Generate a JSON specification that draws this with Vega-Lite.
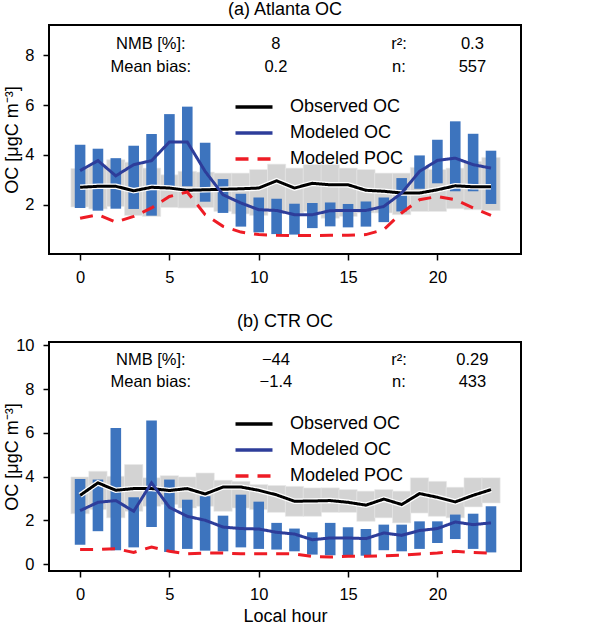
{
  "$schema": "https://vega.github.io/schema/vega-lite/v6.json",
  "padding": {"left": 2, "top": 0, "right": 0, "bottom": 0},
  "config": {
    "font": "Liberation Sans",
    "view": {"stroke": "black", "strokeWidth": 2},
    "title": {"fontSize": 18, "fontWeight": "normal", "offset": 6, "color": "black"},
    "axis": {"domain": false, "grid": false, "tickColor": "black", "tickSize": 6, "tickWidth": 1.5, "labelFontSize": 16.5, "labelColor": "black", "titleFontSize": 18, "titleFontWeight": "normal", "titleColor": "black", "labelPadding": 9},
    "legend": {"title": null, "symbolType": "M-2,0H2", "symbolSize": 342, "symbolStrokeWidth": 3.5, "labelFontSize": 18, "labelOffset": 25, "rowPadding": 6, "labelColor": "black"}
  },
  "datasets": {
    "a": [
      {"hour": 0, "olo": 1.91, "ohi": 3.45, "mlo": 1.87, "mhi": 4.41, "Observed OC": 2.70, "Modeled OC": 3.37, "Modeled POC": 1.46},
      {"hour": 1, "olo": 1.83, "ohi": 3.61, "mlo": 1.76, "mhi": 4.25, "Observed OC": 2.74, "Modeled OC": 3.77, "Modeled POC": 1.60},
      {"hour": 2, "olo": 1.93, "ohi": 3.81, "mlo": 1.84, "mhi": 3.87, "Observed OC": 2.74, "Modeled OC": 3.16, "Modeled POC": 1.30},
      {"hour": 3, "olo": 1.57, "ohi": 3.71, "mlo": 1.83, "mhi": 4.37, "Observed OC": 2.56, "Modeled OC": 3.61, "Modeled POC": 1.53},
      {"hour": 4, "olo": 1.53, "ohi": 3.47, "mlo": 1.56, "mhi": 4.84, "Observed OC": 2.70, "Modeled OC": 3.77, "Modeled POC": 1.87},
      {"hour": 5, "olo": 1.89, "ohi": 3.20, "mlo": 2.70, "mhi": 5.64, "Observed OC": 2.67, "Modeled OC": 4.52, "Modeled POC": 2.33},
      {"hour": 6, "olo": 1.87, "ohi": 3.34, "mlo": 2.74, "mhi": 5.94, "Observed OC": 2.58, "Modeled OC": 4.52, "Modeled POC": 2.51},
      {"hour": 7, "olo": 1.89, "ohi": 3.31, "mlo": 2.12, "mhi": 4.49, "Observed OC": 2.60, "Modeled OC": 3.34, "Modeled POC": 1.60},
      {"hour": 8, "olo": 1.73, "ohi": 3.27, "mlo": 1.67, "mhi": 3.03, "Observed OC": 2.62, "Modeled OC": 2.40, "Modeled POC": 1.13},
      {"hour": 9, "olo": 1.63, "ohi": 3.27, "mlo": 1.12, "mhi": 2.44, "Observed OC": 2.64, "Modeled OC": 2.07, "Modeled POC": 0.90},
      {"hour": 10, "olo": 1.57, "ohi": 3.41, "mlo": 0.89, "mhi": 2.29, "Observed OC": 2.67, "Modeled OC": 1.80, "Modeled POC": 0.80},
      {"hour": 11, "olo": 1.73, "ohi": 3.63, "mlo": 0.82, "mhi": 2.24, "Observed OC": 2.96, "Modeled OC": 1.77, "Modeled POC": 0.77},
      {"hour": 12, "olo": 1.67, "ohi": 3.47, "mlo": 0.80, "mhi": 2.04, "Observed OC": 2.67, "Modeled OC": 1.60, "Modeled POC": 0.76},
      {"hour": 13, "olo": 1.73, "ohi": 3.61, "mlo": 1.06, "mhi": 2.07, "Observed OC": 2.86, "Modeled OC": 1.60, "Modeled POC": 0.76},
      {"hour": 14, "olo": 1.46, "ohi": 3.61, "mlo": 1.13, "mhi": 2.09, "Observed OC": 2.80, "Modeled OC": 1.76, "Modeled POC": 0.77},
      {"hour": 15, "olo": 1.53, "ohi": 3.47, "mlo": 1.09, "mhi": 2.03, "Observed OC": 2.80, "Modeled OC": 1.77, "Modeled POC": 0.77},
      {"hour": 16, "olo": 1.67, "ohi": 3.41, "mlo": 1.12, "mhi": 2.13, "Observed OC": 2.58, "Modeled OC": 1.77, "Modeled POC": 0.80},
      {"hour": 17, "olo": 1.67, "ohi": 3.27, "mlo": 1.30, "mhi": 2.29, "Observed OC": 2.54, "Modeled OC": 1.93, "Modeled POC": 1.00},
      {"hour": 18, "olo": 1.60, "ohi": 3.27, "mlo": 1.73, "mhi": 3.07, "Observed OC": 2.47, "Modeled OC": 2.47, "Modeled POC": 1.67},
      {"hour": 19, "olo": 1.73, "ohi": 3.50, "mlo": 2.64, "mhi": 3.98, "Observed OC": 2.47, "Modeled OC": 3.34, "Modeled POC": 2.20},
      {"hour": 20, "olo": 1.73, "ohi": 3.41, "mlo": 2.86, "mhi": 4.61, "Observed OC": 2.60, "Modeled OC": 3.78, "Modeled POC": 2.33},
      {"hour": 21, "olo": 1.84, "ohi": 3.47, "mlo": 2.54, "mhi": 5.35, "Observed OC": 2.76, "Modeled OC": 3.87, "Modeled POC": 2.20},
      {"hour": 22, "olo": 1.80, "ohi": 3.74, "mlo": 2.54, "mhi": 4.85, "Observed OC": 2.72, "Modeled OC": 3.61, "Modeled POC": 1.87},
      {"hour": 23, "olo": 1.77, "ohi": 3.90, "mlo": 2.03, "mhi": 4.17, "Observed OC": 2.72, "Modeled OC": 3.47, "Modeled POC": 1.57}
    ],
    "b": [
      {"hour": 0, "olo": 2.30, "ohi": 3.98, "mlo": 0.88, "mhi": 3.89, "Observed OC": 3.14, "Modeled OC": 2.44, "Modeled POC": 0.66},
      {"hour": 1, "olo": 2.49, "ohi": 4.24, "mlo": 1.50, "mhi": 3.86, "Observed OC": 3.71, "Modeled OC": 2.82, "Modeled POC": 0.66},
      {"hour": 2, "olo": 2.11, "ohi": 4.01, "mlo": 0.63, "mhi": 6.22, "Observed OC": 3.37, "Modeled OC": 2.90, "Modeled POC": 0.70},
      {"hour": 3, "olo": 2.41, "ohi": 4.55, "mlo": 0.76, "mhi": 3.05, "Observed OC": 3.45, "Modeled OC": 2.41, "Modeled POC": 0.53},
      {"hour": 4, "olo": 2.64, "ohi": 3.94, "mlo": 1.69, "mhi": 6.56, "Observed OC": 3.45, "Modeled OC": 3.71, "Modeled POC": 0.78},
      {"hour": 5, "olo": 2.72, "ohi": 4.04, "mlo": 0.55, "mhi": 3.86, "Observed OC": 3.36, "Modeled OC": 2.59, "Modeled POC": 0.58},
      {"hour": 6, "olo": 2.56, "ohi": 3.98, "mlo": 0.69, "mhi": 2.94, "Observed OC": 3.45, "Modeled OC": 2.18, "Modeled POC": 0.47},
      {"hour": 7, "olo": 2.64, "ohi": 4.16, "mlo": 0.61, "mhi": 3.10, "Observed OC": 3.20, "Modeled OC": 2.00, "Modeled POC": 0.50},
      {"hour": 8, "olo": 2.41, "ohi": 3.83, "mlo": 0.58, "mhi": 2.21, "Observed OC": 3.52, "Modeled OC": 1.69, "Modeled POC": 0.50},
      {"hour": 9, "olo": 2.56, "ohi": 3.78, "mlo": 0.76, "mhi": 3.17, "Observed OC": 3.52, "Modeled OC": 1.62, "Modeled POC": 0.47},
      {"hour": 10, "olo": 2.49, "ohi": 3.63, "mlo": 0.69, "mhi": 2.85, "Observed OC": 3.37, "Modeled OC": 1.60, "Modeled POC": 0.47},
      {"hour": 11, "olo": 2.36, "ohi": 3.59, "mlo": 0.66, "mhi": 1.88, "Observed OC": 3.16, "Modeled OC": 1.45, "Modeled POC": 0.47},
      {"hour": 12, "olo": 2.18, "ohi": 3.55, "mlo": 0.58, "mhi": 1.62, "Observed OC": 2.87, "Modeled OC": 1.37, "Modeled POC": 0.46},
      {"hour": 13, "olo": 2.18, "ohi": 3.48, "mlo": 0.43, "mhi": 1.45, "Observed OC": 2.88, "Modeled OC": 1.11, "Modeled POC": 0.35},
      {"hour": 14, "olo": 2.36, "ohi": 3.48, "mlo": 0.40, "mhi": 1.88, "Observed OC": 2.90, "Modeled OC": 1.19, "Modeled POC": 0.32},
      {"hour": 15, "olo": 2.36, "ohi": 3.40, "mlo": 0.40, "mhi": 1.68, "Observed OC": 2.82, "Modeled OC": 1.19, "Modeled POC": 0.35},
      {"hour": 16, "olo": 1.95, "ohi": 3.33, "mlo": 0.38, "mhi": 1.60, "Observed OC": 2.69, "Modeled OC": 1.16, "Modeled POC": 0.35},
      {"hour": 17, "olo": 2.11, "ohi": 3.40, "mlo": 0.63, "mhi": 1.80, "Observed OC": 2.97, "Modeled OC": 1.42, "Modeled POC": 0.38},
      {"hour": 18, "olo": 1.88, "ohi": 3.33, "mlo": 0.58, "mhi": 1.80, "Observed OC": 2.72, "Modeled OC": 1.31, "Modeled POC": 0.40},
      {"hour": 19, "olo": 2.33, "ohi": 3.94, "mlo": 0.69, "mhi": 1.95, "Observed OC": 3.22, "Modeled OC": 1.53, "Modeled POC": 0.46},
      {"hour": 20, "olo": 2.18, "ohi": 3.78, "mlo": 0.96, "mhi": 1.95, "Observed OC": 3.05, "Modeled OC": 1.62, "Modeled POC": 0.50},
      {"hour": 21, "olo": 2.11, "ohi": 3.51, "mlo": 1.14, "mhi": 2.26, "Observed OC": 2.84, "Modeled OC": 1.92, "Modeled POC": 0.58},
      {"hour": 22, "olo": 2.61, "ohi": 3.94, "mlo": 0.69, "mhi": 2.30, "Observed OC": 3.14, "Modeled OC": 1.80, "Modeled POC": 0.53},
      {"hour": 23, "olo": 2.79, "ohi": 3.94, "mlo": 0.53, "mhi": 2.64, "Observed OC": 3.40, "Modeled OC": 1.88, "Modeled POC": 0.50}
    ],
    "ta": [
      {"hour": 3.96, "value": 8.45, "label": "NMB [%]:"},
      {"hour": 3.96, "value": 7.53, "label": "Mean bias:"},
      {"hour": 10.96, "value": 8.45, "label": "8"},
      {"hour": 10.96, "value": 7.53, "label": "0.2"},
      {"hour": 17.85, "value": 8.45, "label": "r²:"},
      {"hour": 17.85, "value": 7.53, "label": "n:"},
      {"hour": 21.96, "value": 8.45, "label": "0.3"},
      {"hour": 21.96, "value": 7.53, "label": "557"}
    ],
    "tb": [
      {"hour": 3.96, "value": 9.32, "label": "NMB [%]:"},
      {"hour": 3.96, "value": 8.32, "label": "Mean bias:"},
      {"hour": 10.96, "value": 9.32, "label": "−44"},
      {"hour": 10.96, "value": 8.32, "label": "−1.4"},
      {"hour": 17.85, "value": 9.32, "label": "r²:"},
      {"hour": 17.85, "value": 8.32, "label": "n:"},
      {"hour": 21.96, "value": 9.32, "label": "0.29"},
      {"hour": 21.96, "value": 8.32, "label": "433"}
    ]
  },
  "spacing": 25,
  "resolve": {
    "scale": {"x": "independent", "y": "independent", "color": "independent", "strokeDash": "independent"},
    "legend": {"color": "independent", "strokeDash": "independent"}
  },
  "vconcat": [
    {
      "title": "(a) Atlanta OC",
      "width": 472,
      "height": 229,
      "data": {"name": "a"},
      "layer": [
        {
          "mark": {"type": "bar", "width": 18.3, "color": "#d3d3d3", "stroke": "#e9e9e9", "strokeWidth": 0.6},
          "encoding": {
            "x": {"field": "hour", "type": "quantitative", "scale": {"domain": [-1.46, 24.4], "nice": false, "zero": false}, "axis": {"values": [0, 5, 10, 15, 20], "title": null}},
            "y": {"field": "olo", "type": "quantitative", "scale": {"domain": [0.02, 9.22], "nice": false, "zero": false}, "axis": {"values": [2, 4, 6, 8], "title": "OC [μgC m⁻³]", "titleX": -37, "titleBaseline": "middle"}},
            "y2": {"field": "ohi"}
          }
        },
        {
          "mark": {"type": "bar", "width": 10.6, "color": "#3d74be"},
          "encoding": {
            "x": {"field": "hour", "type": "quantitative"},
            "y": {"field": "mlo", "type": "quantitative"},
            "y2": {"field": "mhi"}
          }
        },
        {
          "mark": {"type": "line", "color": "white", "strokeWidth": 5.5},
          "encoding": {
            "x": {"field": "hour", "type": "quantitative"},
            "y": {"field": "Observed OC", "type": "quantitative"}
          }
        },
        {
          "transform": [{"fold": ["Observed OC", "Modeled OC", "Modeled POC"], "as": ["series", "val"]}],
          "mark": {"type": "line", "strokeWidth": 3},
          "encoding": {
            "x": {"field": "hour", "type": "quantitative"},
            "y": {"field": "val", "type": "quantitative"},
            "color": {"field": "series", "type": "nominal", "scale": {"domain": ["Observed OC", "Modeled OC", "Modeled POC"], "range": ["black", "#2d3d9a", "#ee1c25"]},
              "legend": {"orient": "none", "legendX": 194, "legendY": 71}},
            "strokeDash": {"field": "series", "type": "nominal", "scale": {"domain": ["Observed OC", "Modeled OC", "Modeled POC"], "range": [[1, 0], [1, 0], [13, 9]]},
              "legend": {"orient": "none", "legendX": 194, "legendY": 71}}
          }
        },
        {
          "data": {"name": "ta"},
          "mark": {"type": "text", "fontSize": 16.5, "color": "black", "baseline": "middle"},
          "encoding": {
            "x": {"field": "hour", "type": "quantitative"},
            "y": {"field": "value", "type": "quantitative"},
            "text": {"field": "label"}
          }
        }
      ]
    },
    {
      "title": "(b) CTR OC",
      "width": 472,
      "height": 229,
      "data": {"name": "b"},
      "layer": [
        {
          "mark": {"type": "bar", "width": 18.3, "color": "#d3d3d3", "stroke": "#e9e9e9", "strokeWidth": 0.6},
          "encoding": {
            "x": {"field": "hour", "type": "quantitative", "scale": {"domain": [-1.46, 24.4], "nice": false, "zero": false}, "axis": {"values": [0, 5, 10, 15, 20], "title": "Local hour", "titlePadding": 5}},
            "y": {"field": "olo", "type": "quantitative", "scale": {"domain": [-0.32, 10.15], "nice": false, "zero": false}, "axis": {"values": [0, 2, 4, 6, 8, 10], "title": "OC [μgC m⁻³]", "titleX": -37, "titleBaseline": "middle"}},
            "y2": {"field": "ohi"}
          }
        },
        {
          "mark": {"type": "bar", "width": 10.6, "color": "#3d74be"},
          "encoding": {
            "x": {"field": "hour", "type": "quantitative"},
            "y": {"field": "mlo", "type": "quantitative"},
            "y2": {"field": "mhi"}
          }
        },
        {
          "mark": {"type": "line", "color": "white", "strokeWidth": 5.5},
          "encoding": {
            "x": {"field": "hour", "type": "quantitative"},
            "y": {"field": "Observed OC", "type": "quantitative"}
          }
        },
        {
          "transform": [{"fold": ["Observed OC", "Modeled OC", "Modeled POC"], "as": ["series", "val"]}],
          "mark": {"type": "line", "strokeWidth": 3},
          "encoding": {
            "x": {"field": "hour", "type": "quantitative"},
            "y": {"field": "val", "type": "quantitative"},
            "color": {"field": "series", "type": "nominal", "scale": {"domain": ["Observed OC", "Modeled OC", "Modeled POC"], "range": ["black", "#2d3d9a", "#ee1c25"]},
              "legend": {"orient": "none", "legendX": 194, "legendY": 71}},
            "strokeDash": {"field": "series", "type": "nominal", "scale": {"domain": ["Observed OC", "Modeled OC", "Modeled POC"], "range": [[1, 0], [1, 0], [13, 9]]},
              "legend": {"orient": "none", "legendX": 194, "legendY": 71}}
          }
        },
        {
          "data": {"name": "tb"},
          "mark": {"type": "text", "fontSize": 16.5, "color": "black", "baseline": "middle"},
          "encoding": {
            "x": {"field": "hour", "type": "quantitative"},
            "y": {"field": "value", "type": "quantitative"},
            "text": {"field": "label"}
          }
        }
      ]
    }
  ]
}
